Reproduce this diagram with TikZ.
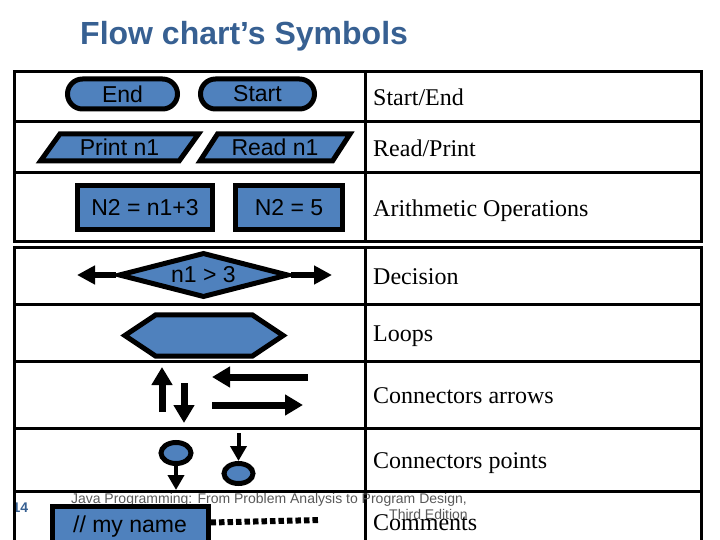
\documentclass[tikz,border=0pt]{standalone}
\usepackage{fontspec}
\setmainfont{Liberation Serif}
\setsansfont{Liberation Sans}
\usetikzlibrary{
    arrows.meta,
    shapes.geometric,
    shapes.misc,
    calc
}
\definecolor{symblue}{HTML}{4F81BD}
\definecolor{titleblue}{HTML}{376092}
\definecolor{footgray}{HTML}{595959}

\begin{document}
\begin{tikzpicture}[x=1pt, y=-1pt,
    symbol/.style={draw=black, line width=5pt, fill=symblue, inner sep=0pt,
        font=\sffamily\fontsize{23}{23}\selectfont},
    joinpoint/.style={draw=black, line width=5pt, fill=symblue, ellipse, inner sep=0pt},
    rowtext/.style={anchor=base west, inner sep=0pt, font=\fontsize{24}{24}\selectfont},
    tableline/.style={line width=3pt},
    flowarrow/.style={line width=6pt, -{Triangle[length=18pt, width=18pt]}},
    bigarrow/.style={line width=7pt, -{Triangle[length=18pt, width=20pt]}},
    pointarrow/.style={line width=4pt, -{Triangle[length=15pt, width=16pt]}}]
    \useasboundingbox (0, 0) rectangle (720, 540);
    \clip (0, 0) rectangle (720, 540);

    \node[anchor=base west, inner sep=0pt, text=titleblue,
        font=\sffamily\bfseries\fontsize{32}{32}\selectfont] (title) at (80, 45) {Flow chart’s Symbols};
    \node[anchor=base, inner sep=0pt, text=titleblue,
        font=\sffamily\bfseries\fontsize{14}{14}\selectfont] (slideno) at (20.5, 512) {14};

    \begin{scope}
        \draw[tableline] (14, 72) rectangle (701, 241);
        \draw[tableline] (365, 72) -- (365, 241);
        \draw[tableline] (14, 122) -- (701, 122) (14, 173) -- (701, 173);
    \end{scope}
    \begin{scope}
        \draw[tableline] (14, 548) -- (14, 247) -- (701, 247) -- (701, 548);
        \draw[tableline] (365, 247) -- (365, 548);
        \foreach \y in {304, 361, 428, 491}
            \draw[tableline] (14, \y) -- (701, \y);
    \end{scope}

    \node[rowtext] (lblterm) at (373, 106) {Start/End};
    \node[rowtext] (lblio) at (373, 157) {Read/Print};
    \node[rowtext] (lblcalc) at (373, 216) {Arithmetic Operations};
    \node[rowtext] (lbldecide) at (373, 284) {Decision};
    \node[rowtext] (lblloop) at (373, 341) {Loops};
    \node[rowtext] (lblarrows) at (373, 403) {Connectors arrows};
    \node[rowtext] (lblpoints) at (373, 468) {Connectors points};

    \node[symbol, rounded rectangle, minimum width=110, minimum height=30] (endpill) at (122.5, 94) {End};
    \node[symbol, rounded rectangle, minimum width=114, minimum height=30] (startpill) at (257.5, 94) {Start};

    \node[symbol, trapezium, trapezium left angle=41, trapezium right angle=139, trapezium stretches body,
        minimum width=158, minimum height=27] (printio) at (119.5, 147.5) {Print n1};
    \node[symbol, trapezium, trapezium left angle=44, trapezium right angle=136, trapezium stretches body,
        minimum width=150, minimum height=27] (readio) at (275, 147.5) {Read n1};

    \node[symbol, minimum width=135, minimum height=44] (calcone) at (145, 207.5) {N2 = n1+3};
    \node[symbol, minimum width=107, minimum height=44] (calctwo) at (289, 207.5) {N2 = 5};

    \node[symbol, diamond, aspect=4, minimum width=170, minimum height=45] (decide) at (203.5, 275) {n1 > 3};
    \coordinate (noway) at (77, 275);
    \coordinate (yesway) at (332, 275);
    \draw[flowarrow] (decide.west) -- (noway);
    \draw[flowarrow] (decide.east) -- (yesway);

    \node[minimum width=158, minimum height=41, inner sep=0pt] (loop) at (204, 335.5) {};
    \draw[symbol] (loop.west) -- ([xshift=31pt]loop.north west) -- ([xshift=-31pt]loop.north east)
        -- (loop.east) -- ([xshift=-31pt]loop.south east) -- ([xshift=31pt]loop.south west) -- cycle;

    \coordinate (upfoot) at (162, 412);
    \coordinate (uptip) at (162, 367);
    \coordinate (downtop) at (184, 383);
    \coordinate (downtip) at (184, 423);
    \coordinate (lefttail) at (308, 377);
    \coordinate (lefttip) at (212, 377);
    \coordinate (righttail) at (212, 405);
    \coordinate (righttip) at (303, 405);
    \draw[bigarrow] (upfoot) -- (uptip);
    \draw[bigarrow] (downtop) -- (downtip);
    \draw[bigarrow] (lefttail) -- (lefttip);
    \draw[bigarrow] (righttail) -- (righttip);

    \node[joinpoint, minimum width=30, minimum height=21] (outpoint) at (176, 453) {};
    \node[joinpoint, minimum width=29, minimum height=20] (inpoint) at (238.5, 473.5) {};
    \coordinate (outend) at (176, 490);
    \coordinate (instart) at (238.5, 433);
    \draw[pointarrow] (outpoint.south) -- (outend);
    \draw[pointarrow] (instart) -- (inpoint.north);

    \node[anchor=base east, inner sep=0pt, text=footgray,
        font=\sffamily\fontsize{14}{14}\selectfont] (footline) at (467, 503) {Java Programming: From Problem Analysis to Program Design,};
    \node[anchor=base east, inner sep=0pt, text=footgray,
        font=\sffamily\fontsize{14}{14}\selectfont] (footedition) at (468, 519) {Third Edition};

    \node[symbol, anchor=north west, minimum width=156, minimum height=42] (note) at (49.5, 503.5) {// my name};
    \coordinate (noteend) at (320, 520);
    \draw[line width=6pt, dash pattern=on 5.5pt off 3pt] ([yshift=4.5pt]note.east) -- (noteend);
    \node[rowtext] (lblnote) at (373, 530) {Comments};
\end{tikzpicture}
\end{document}
